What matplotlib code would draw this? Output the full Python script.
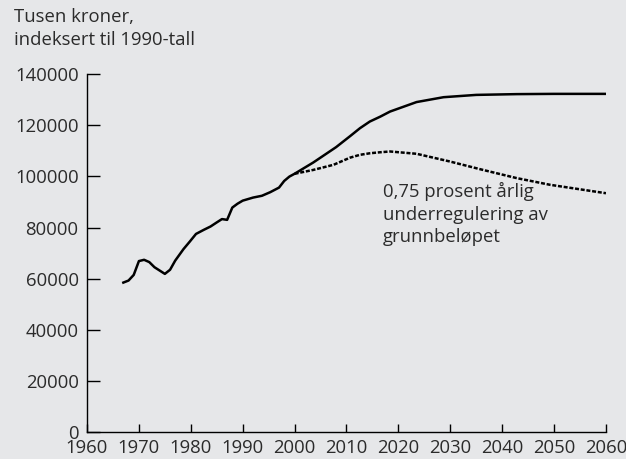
import numpy as np
import matplotlib
matplotlib.use("Agg")
import matplotlib.pyplot as plt

# historical / main projection (thousand NOK, 1990 prices)
years_main = [1967, 1968, 1969, 1970, 1971, 1972, 1973, 1975, 1976, 1977, 1978.6,
              1979.8, 1981, 1982.5, 1983.8, 1985, 1986, 1987, 1988, 1989, 1990,
              1992, 1993.7, 1995.3, 1997, 1998, 1999, 2000, 2003.6, 2008, 2010.7,
              2012.6, 2014.5, 2016.5, 2018.4, 2023.5, 2028.7, 2035, 2042.8, 2050, 2060]
values_main = [58500, 59300, 61500, 66900, 67400, 66500, 64500, 61900, 63500, 67100, 71600,
               74500, 77500, 79100, 80400, 82000, 83300, 83000, 87800, 89300, 90500,
               91700, 92400, 93800, 95600, 98200, 99900, 101000, 105400, 111400, 115700,
               118800, 121400, 123300, 125300, 129000, 130900, 131800, 132100, 132200, 132200]

# alternative with 0.75 percent yearly under-regulation
years_alt = [2000, 2003.6, 2007.5, 2010.7, 2012.6, 2014.5, 2016.5, 2018.4, 2023.5,
             2029.9, 2036.3, 2042.8, 2049.2, 2060]
values_alt = [101000, 102500, 104500, 107300, 108400, 109000, 109400, 109700, 108800,
              105800, 102500, 99300, 96700, 93400]

xticks = list(range(1960, 2061, 10))
yticks = list(range(0, 140001, 20000))

plt.rcParams['font.family'] = ['Open Sans', 'DejaVu Sans']
bg = '#e6e7e9'
txt = '#2b2b2b'
fs = 13.3

fig = plt.figure(figsize=(6.26, 4.59), dpi=100, facecolor=bg)
ax = fig.add_axes([0.139, 0.058, 0.829, 0.781], facecolor=bg)

ax.plot(years_main, values_main, color='black', lw=1.8, solid_joinstyle='round')
ax.plot(years_alt, values_alt, color='black', lw=1.8, linestyle=(0, (1.6, 0.7)))

ax.set_xlim(1960, 2060)
ax.set_ylim(0, 140000)
ax.set_xticks(xticks)
ax.set_yticks(yticks)
ax.set_yticklabels([str(v) for v in yticks])

for s in ['top', 'right']:
    ax.spines[s].set_visible(False)
for s in ['left', 'bottom']:
    ax.spines[s].set_linewidth(1.0)
    ax.spines[s].set_color('black')

ax.tick_params(axis='y', direction='in', length=9.5, width=1.0, pad=6,
               labelsize=fs, labelcolor=txt)
ax.tick_params(axis='x', direction='in', length=6, width=1.0, pad=5,
               labelsize=fs, labelcolor=txt)

fig.text(0.022, 0.982, 'Tusen kroner,\nindeksert til 1990-tall', ha='left', va='top',
         fontsize=fs, color=txt, linespacing=1.35)

ax.text(2017, 97600, '0,75 prosent årlig\nunderregulering av\ngrunnbeløpet',
        ha='left', va='top', fontsize=fs, color=txt, linespacing=1.32)

fig.savefig('out.png', dpi=100, facecolor=bg)
